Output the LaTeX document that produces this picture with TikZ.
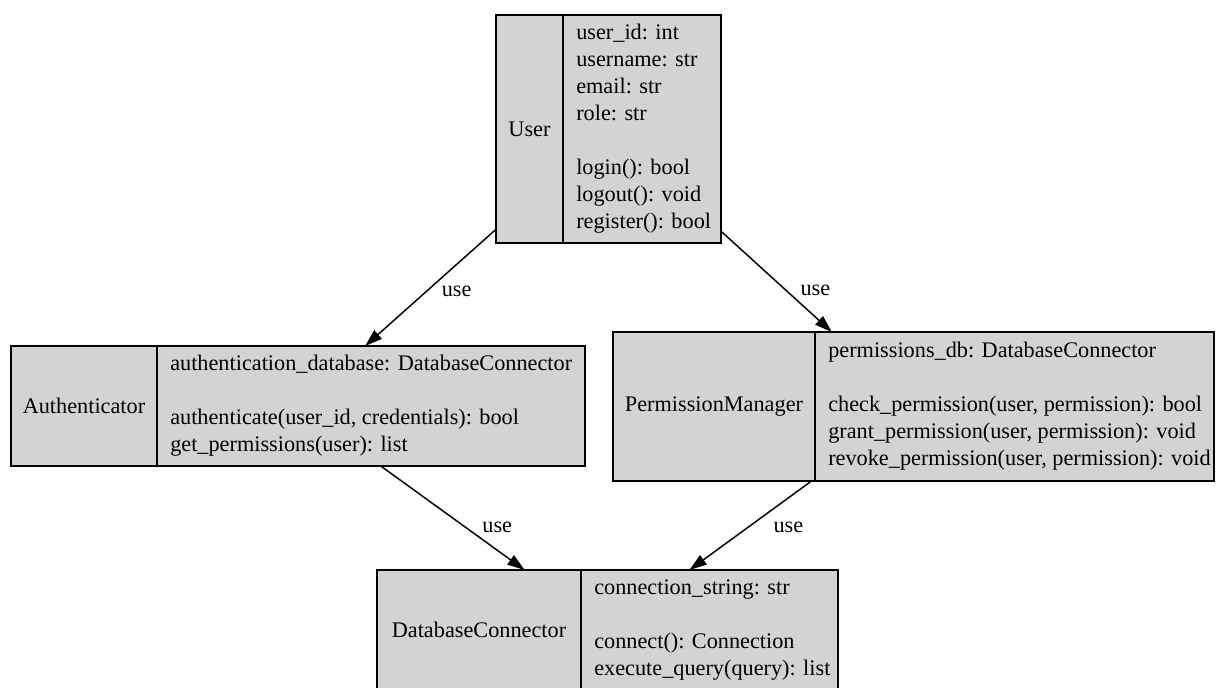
\documentclass[tikz,border=0pt]{standalone}
\usepackage{fontspec}
\setmainfont{Liberation Serif}
\newfontfamily\umlfamily{Liberation Serif}
\usetikzlibrary{arrows.meta,fit}
\definecolor{boxgray}{HTML}{D3D3D3}
\newcommand\umlfont{\umlfamily\fontsize{16.7pt}{20.25pt}\selectfont}
\tikzset{
  part/.style={draw=black, fill=boxgray, line width=1.1pt, inner sep=0pt, outer sep=0pt},
  namepart/.style={part, align=center, font=\umlfont},
  memberpart/.style={part},
  membertext/.style={anchor=west, align=left, inner sep=0pt, font=\umlfont},
  record/.style={inner sep=0pt, outer sep=0pt},
  uses/.style={draw=black, line width=1.1pt, -{Triangle[length=13pt, width=8.5pt]}},
  uselabel/.style={font=\umlfont, inner sep=0pt},
}
\begin{document}
\begin{tikzpicture}[x=0.75pt, y=-0.75pt]
\useasboundingbox (0,0) rectangle (1216,687);
\clip (0,0) rectangle (1216,687);

% User
\node[namepart, minimum width=50.25pt, minimum height=171pt] (userName) at (529.5,129) {User};
\node[memberpart, minimum width=118.5pt, minimum height=171pt, anchor=west] (userMembers) at (userName.east) {};
\node[membertext] (userText) at ([xshift=9.75pt]userMembers.west)
  {user\_id: int\\username: str\\email: str\\role: str\\[20.25pt]login(): bool\\logout(): void\\register(): bool};
\node[record, fit=(userName)(userMembers)] (user) {};

% Authenticator
\node[namepart, minimum width=109.5pt, minimum height=90pt] (authName) at (84,406) {Authenticator};
\node[memberpart, minimum width=321pt, minimum height=90pt, anchor=west] (authMembers) at (authName.east) {};
\node[membertext] (authText) at ([xshift=9.75pt]authMembers.west)
  {authentication\_database: DatabaseConnector\\[20.25pt]authenticate(user\_id, credentials): bool\\get\_permissions(user): list};
\node[record, fit=(authName)(authMembers)] (auth) {};

% PermissionManager
\node[namepart, minimum width=151.5pt, minimum height=111.75pt] (permName) at (714,406.5) {PermissionManager};
\node[memberpart, minimum width=299.25pt, minimum height=111.75pt, anchor=west] (permMembers) at (permName.east) {};
\node[membertext] (permText) at ([xshift=9.75pt]permMembers.west)
  {permissions\_db: DatabaseConnector\\[20.25pt]check\_permission(user, permission): bool\\grant\_permission(user, permission): void\\revoke\_permission(user, permission): void};
\node[record, fit=(permName)(permMembers)] (perm) {};

% DatabaseConnector
\node[namepart, minimum width=153pt, minimum height=90pt] (dbName) at (479,630) {DatabaseConnector};
\node[memberpart, minimum width=192.75pt, minimum height=90pt, anchor=west] (dbMembers) at (dbName.east) {};
\node[membertext] (dbText) at ([xshift=9.75pt]dbMembers.west)
  {connection\_string: str\\[20.25pt]connect(): Connection\\execute\_query(query): list};
\node[record, fit=(dbName)(dbMembers)] (db) {};

% Dependencies
\draw[uses] (user) -- node[uselabel, pos=0.53, xshift=22.5pt] {use} (auth);
\draw[uses] (user) -- node[uselabel, pos=0.59, xshift=21.75pt] {use} (perm);
\draw[uses] (auth) -- node[uselabel, pos=0.587, xshift=24pt] {use} (db);
\draw[uses] (perm) -- node[uselabel, pos=0.517, xshift=30pt] {use} (db);
\end{tikzpicture}
\end{document}
